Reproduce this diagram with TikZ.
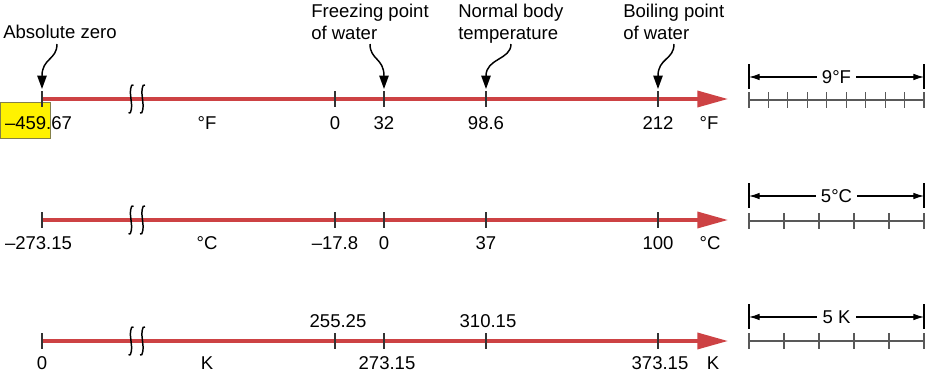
\documentclass[tikz,border=0pt]{standalone}
\usepackage{fontspec}
\setmainfont{Liberation Sans}
\usetikzlibrary{arrows.meta}
\definecolor{axred}{RGB}{205,66,68}
\begin{document}
\begin{tikzpicture}[x=0.75pt,y=-0.75pt,
 every node/.style={font=\fontsize{13.9}{16.5}\selectfont, inner sep=0pt},
 axis/.style={draw=axred, line width=2.6pt, -{Triangle[length=23pt,width=12pt]}},
 tick/.style={draw=black!80, line width=0.8pt},
 callout/.style={draw=black, line width=1.1pt, -{Triangle[length=10pt,width=7pt]}},
 brk/.style={draw=black, line width=1.1pt},
 lab/.style={anchor=base},
 note/.style={anchor=base west, align=left},
 dim/.style={draw=black, line width=0.9pt, {Latex[length=8pt,width=5pt]}-{Latex[length=8pt,width=5pt]}},
 dimlab/.style={fill=white, inner xsep=4pt, inner ysep=1pt},
 bar/.style={draw=black, line width=1.1pt},
 ruler/.style={draw=black!65, line width=0.9pt},
 hilite/.style={fill=yellow, draw=black!55!yellow, line width=0.6pt},
]
\useasboundingbox (0,0) rectangle (926,375);

% highlight box
\draw[hilite] (0,102) rectangle (50,138);

% axes
\coordinate (Fs) at (42,99);  \coordinate (Fe) at (728,99);
\coordinate (Cs) at (42,220); \coordinate (Ce) at (728,220);
\coordinate (Ks) at (42,341); \coordinate (Ke) at (728,341);
\draw[axis] (Fs) -- (Fe);
\draw[axis] (Cs) -- (Ce);
\draw[axis] (Ks) -- (Ke);

% ticks
\foreach \y in {99,220,341}{
  \foreach \x in {42,335,384,486,658}{
    \draw[tick] (\x,\y-8) -- (\x,\y+8);
  }
  % axis break marks
  \foreach \x in {131,142.5}{
    \draw[brk] (\x+2.5,\y-14) .. controls (\x-0.5,\y-16) and (\x-1.2,\y-7) .. (\x,\y)
               .. controls (\x+1.2,\y+7) and (\x+0.5,\y+16) .. (\x-2.5,\y+14);
  }
}

% Fahrenheit labels
\node[lab] (f1) at (38.5,129) {–459.67};
\node[lab] (f2) at (207,129) {°F};
\node[lab] (f3) at (335,129) {0};
\node[lab] (f4) at (384,129) {32};
\node[lab] (f5) at (486,129) {98.6};
\node[lab] (f6) at (658,129) {212};
\node[lab] (f7) at (709,129) {°F};

% Celsius labels
\node[lab] (c1) at (38.5,249) {–273.15};
\node[lab] (c2) at (207,249) {°C};
\node[lab] (c3) at (335,249) {–17.8};
\node[lab] (c4) at (384,249) {0};
\node[lab] (c5) at (486,249) {37};
\node[lab] (c6) at (658,249) {100};
\node[lab] (c7) at (710,249) {°C};

% Kelvin labels
\node[lab] (k1) at (42,369) {0};
\node[lab] (k2) at (207,369) {K};
\node[lab] (k3) at (338,327) {255.25};
\node[lab] (k4) at (387,369) {273.15};
\node[lab] (k5) at (488,327) {310.15};
\node[lab] (k6) at (660,369) {373.15};
\node[lab] (k7) at (713,369) {K};

% callouts (base = last line)
\node[note] (n1) at (3,38) {Absolute zero};
\node[note] (n2) at (311,39) {Freezing point\\of water};
\node[note] (n3) at (458,39) {Normal body\\temperature};
\node[note] (n4) at (623,39) {Boiling point\\of water};

\coordinate (a1s) at (57,44);  \coordinate (a1e) at (42,89);
\coordinate (a2s) at (370,44); \coordinate (a2e) at (384,89);
\coordinate (a3s) at (511,44); \coordinate (a3e) at (486,89);
\coordinate (a4s) at (674,44); \coordinate (a4e) at (658,89);
\draw[callout] (a1s) .. controls (57,60) and (42,58) .. (a1e);
\draw[callout] (a2s) .. controls (370,60) and (384,58) .. (a2e);
\draw[callout] (a3s) .. controls (511,60) and (486,58) .. (a3e);
\draw[callout] (a4s) .. controls (674,60) and (658,58) .. (a4e);

% right-hand unit rulers
% F
\coordinate (fl) at (749,77); \coordinate (fr) at (924,77);
\draw[bar] (749,64) -- (749,89);
\draw[bar] (924,64) -- (924,89);
\draw[dim] (fl) -- node[dimlab] (fd) {9°F} (fr);
\draw[ruler] (749,100) -- (924,100);
\foreach \i in {0,...,9}{ \draw[ruler] (749+\i*175/9,92) -- (749+\i*175/9,108); }
% C
\coordinate (cl) at (749,196); \coordinate (cr) at (924,196);
\draw[bar] (749,183) -- (749,208);
\draw[bar] (924,183) -- (924,208);
\draw[dim] (cl) -- node[dimlab] (cd) {5°C} (cr);
\draw[ruler] (749,221) -- (924,221);
\foreach \i in {0,...,5}{ \draw[ruler] (749+\i*35,213) -- (749+\i*35,229); }
% K
\coordinate (kl) at (749,317); \coordinate (kr) at (924,317);
\draw[bar] (749,304) -- (749,329);
\draw[bar] (924,304) -- (924,329);
\draw[dim] (kl) -- node[dimlab] (kd) {5 K} (kr);
\draw[ruler] (749,341) -- (924,341);
\foreach \i in {0,...,5}{ \draw[ruler] (749+\i*35,333) -- (749+\i*35,349); }
\end{tikzpicture}
\end{document}
